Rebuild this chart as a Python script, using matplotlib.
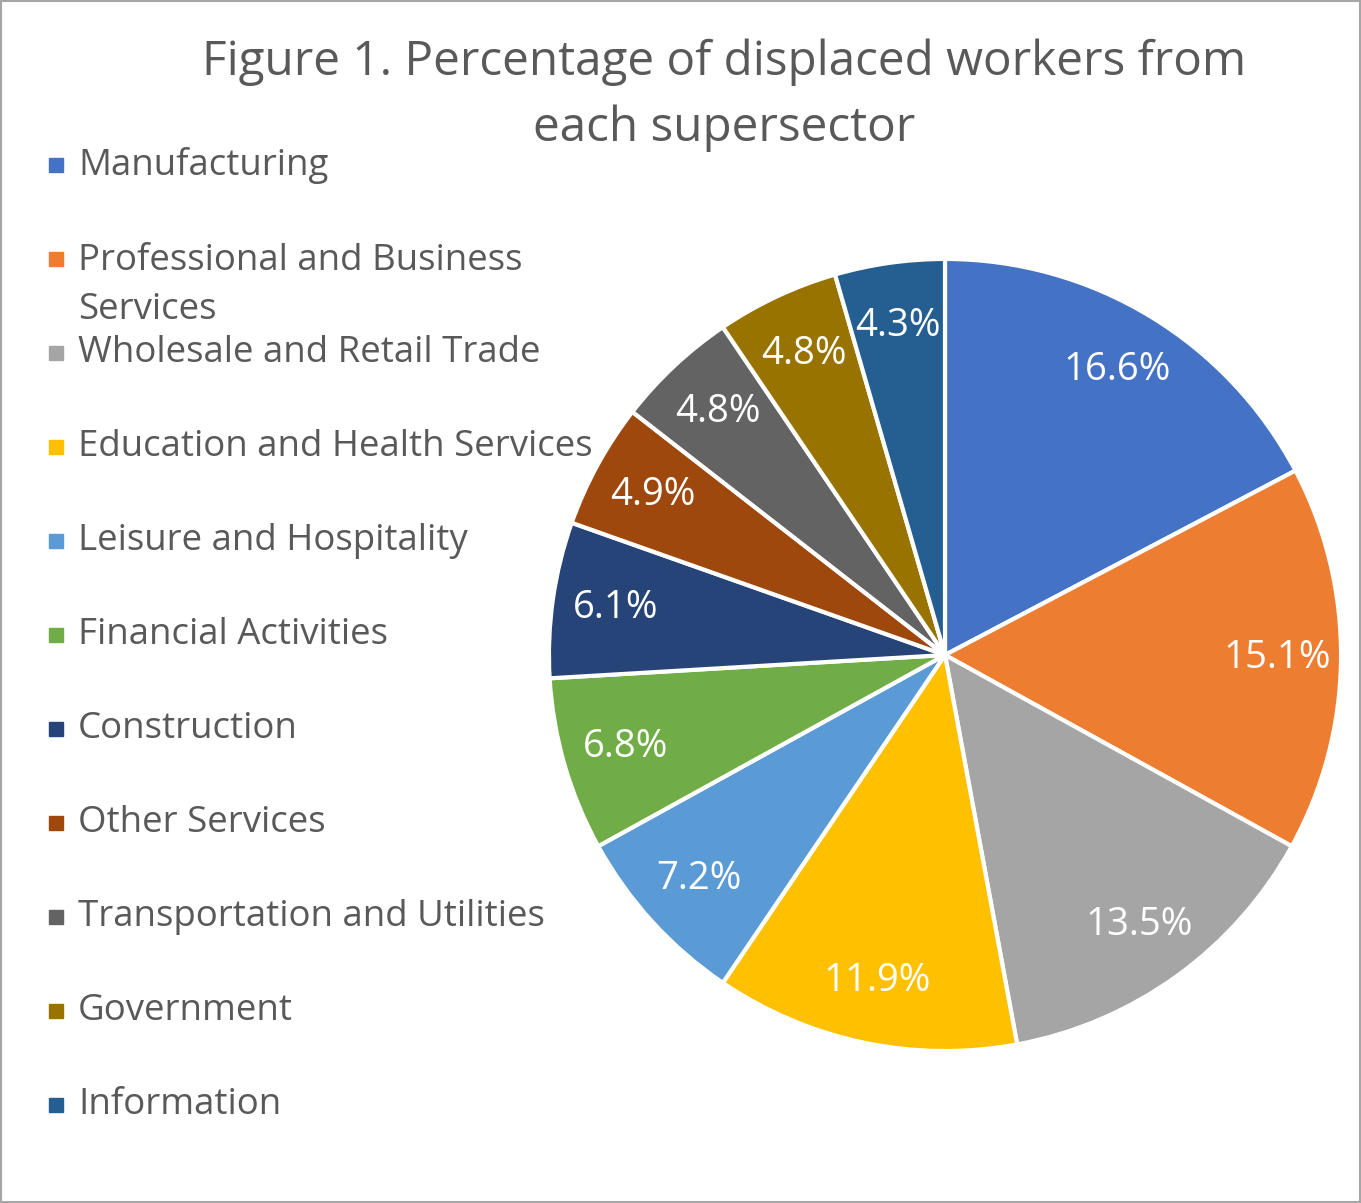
import matplotlib.pyplot as plt
from matplotlib.patches import Rectangle

plt.rcParams['font.family'] = ['Open Sans', 'DejaVu Sans']

# data
sectors = ['Manufacturing', 'Professional and Business\nServices', 'Wholesale and Retail Trade',
           'Education and Health Services', 'Leisure and Hospitality', 'Financial Activities',
           'Construction', 'Other Services', 'Transportation and Utilities', 'Government',
           'Information']
shares = [16.6, 15.1, 13.5, 11.9, 7.2, 6.8, 6.1, 4.9, 4.8, 4.8, 4.3]
colors = ['#4472C4', '#ED7D31', '#A5A5A5', '#FFC000', '#5B9BD5', '#70AD47',
          '#264478', '#9E480E', '#636363', '#997300', '#255E91']

fig = plt.figure(figsize=(13.61, 12.03), dpi=100)
ax = fig.add_axes([545 / 1361, 148 / 1203, 800 / 1361, 800 / 1203])

wedges, texts = ax.pie(shares, colors=colors, startangle=90, counterclock=False,
                       labels=[f'{v:.1f}%' for v in shares], labeldistance=0.84,
                       wedgeprops=dict(edgecolor='white', linewidth=3))
for t in texts:
    t.set_color('white')
    t.set_fontsize(27.5)
    t.set_ha('center')
    t.set_va('center')
ax.set_xlim(-1.01, 1.01)
ax.set_ylim(-1.01, 1.01)
ax.set_aspect('equal')

fig.text(0.532, 0.968, 'Figure 1. Percentage of displaced workers from\neach supersector',
         ha='center', va='top', fontsize=34.3, color='#595959', linespacing=1.5)

# legend, one row every 94 px
for i, (name, c) in enumerate(zip(sectors, colors)):
    y = 1 - (165 + 94 * i) / 1203
    fig.patches.append(Rectangle((49 / 1361, y - 7 / 1203), 14 / 1361, 14 / 1203,
                                 transform=fig.transFigure, color=c))
    t = fig.text(78 / 1361, y, name, ha='left', va='center',
                 fontsize=26.4, color='#595959', linespacing=1.48)
    if '\n' in name:
        t.set_va('top')
        t.set_y(y + 16 / 1203)

# border
fig.patches.append(Rectangle((0.001, 0.001), 0.998, 0.998, transform=fig.transFigure,
                             fill=False, edgecolor='#A6A6A6', linewidth=1.5))

fig.savefig('out.png', dpi=100)
